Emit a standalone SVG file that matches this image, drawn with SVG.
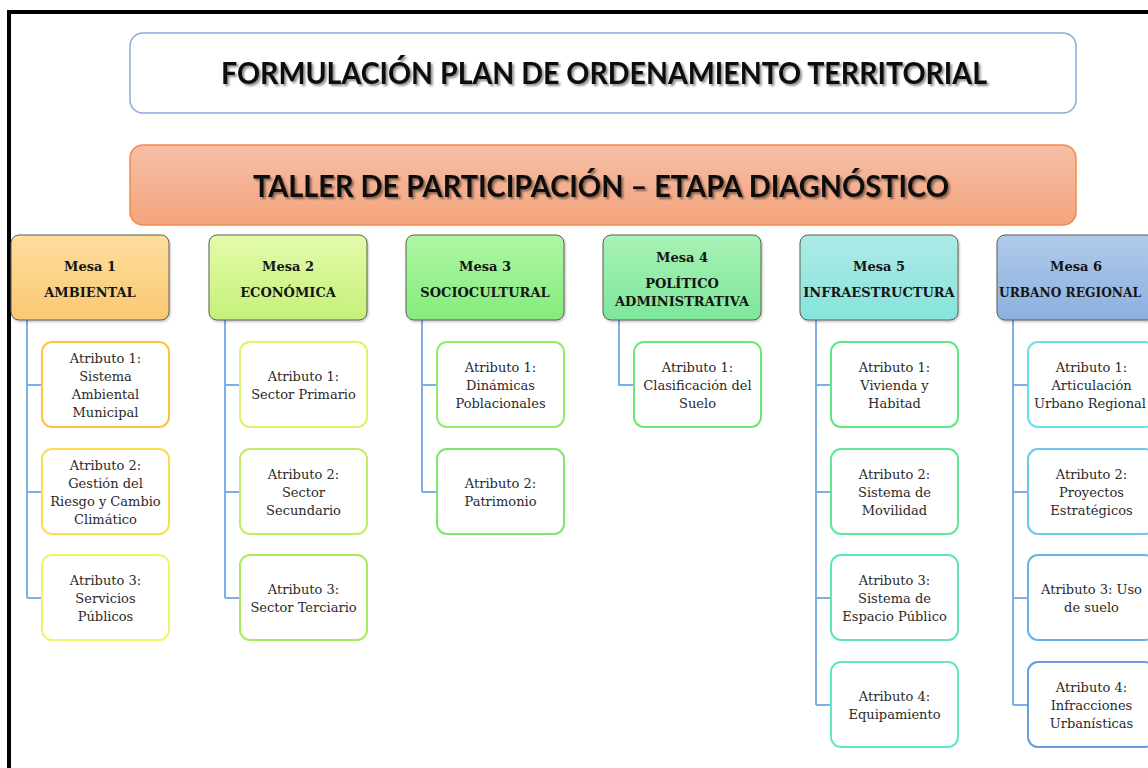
<svg xmlns="http://www.w3.org/2000/svg" width="1148" height="768" viewBox="0 0 1148 768">
<defs>
<style>
.frame{fill:none;stroke:#000;stroke-width:4}
.ttl{font-family:Lato,"Liberation Sans",sans-serif;font-weight:bold;font-size:31px;fill:#0d0d0d;text-anchor:middle}
.mesa{stroke:#5e5e52;stroke-width:1}
.mt{font-family:"DejaVu Serif",serif;font-weight:bold;font-size:13px;fill:#141414;text-anchor:middle}
.at{fill:#fff;stroke-width:2}
.att{font-family:"DejaVu Serif",serif;font-size:13px;fill:#2a2a2a;text-anchor:middle}
.con{fill:none;stroke:#7eaee6;stroke-width:2}
</style>
<filter id="tsh" x="-5%" y="-30%" width="110%" height="160%">
<feDropShadow dx="2" dy="2" stdDeviation="1.2" flood-color="#000" flood-opacity="0.45"/>
</filter>
<filter id="bsh" x="-5%" y="-5%" width="115%" height="120%">
<feDropShadow dx="1" dy="1.5" stdDeviation="1" flood-color="#000" flood-opacity="0.25"/>
</filter>
<linearGradient id="gT" x1="0" y1="0" x2="0" y2="1"><stop offset="0" stop-color="#f6bea6"/><stop offset="1" stop-color="#f4a47c"/></linearGradient>
<linearGradient id="g1" x1="0" y1="0" x2="0" y2="1"><stop offset="0" stop-color="#fedd9e"/><stop offset="1" stop-color="#fbc874"/></linearGradient>
<linearGradient id="g2" x1="0" y1="0" x2="0" y2="1"><stop offset="0" stop-color="#e4fbaa"/><stop offset="1" stop-color="#c6f07a"/></linearGradient>
<linearGradient id="g3" x1="0" y1="0" x2="0" y2="1"><stop offset="0" stop-color="#aef6a4"/><stop offset="1" stop-color="#84ec7c"/></linearGradient>
<linearGradient id="g4" x1="0" y1="0" x2="0" y2="1"><stop offset="0" stop-color="#a8f2b6"/><stop offset="1" stop-color="#7ee69a"/></linearGradient>
<linearGradient id="g5" x1="0" y1="0" x2="0" y2="1"><stop offset="0" stop-color="#aeeae6"/><stop offset="1" stop-color="#86e4da"/></linearGradient>
<linearGradient id="g6" x1="0" y1="0" x2="0" y2="1"><stop offset="0" stop-color="#b0caea"/><stop offset="1" stop-color="#8cb0de"/></linearGradient>
</defs>

<rect class="frame" x="9" y="12" width="1200" height="800"/>

<g id="titulo">
<rect x="130" y="33" width="946" height="80" rx="13" fill="#fff" stroke="#8eaadc" stroke-width="1.5"/>
<text class="ttl" x="604" y="84" textLength="766" lengthAdjust="spacingAndGlyphs" filter="url(#tsh)">FORMULACIÓN PLAN DE ORDENAMIENTO TERRITORIAL</text>
</g>

<g id="taller">
<rect x="130" y="145" width="946" height="80" rx="13" fill="url(#gT)" stroke="#f28a4c" stroke-width="1.5"/>
<text class="ttl" x="601" y="197" textLength="696" lengthAdjust="spacingAndGlyphs" filter="url(#tsh)">TALLER DE PARTICIPACIÓN – ETAPA DIAGNÓSTICO</text>
</g>

<g id="conectores">
<path class="con" d="M27 320 V598 M27 385 H42 M27 492 H42 M27 598 H42"/>
<path class="con" d="M225 320 V598 M225 385 H240 M225 492 H240 M225 598 H240"/>
<path class="con" d="M422 320 V492 M422 385 H437 M422 492 H437"/>
<path class="con" d="M619 320 V385 H634"/>
<path class="con" d="M816 320 V705 M816 385 H831 M816 492 H831 M816 598 H831 M816 705 H831"/>
<path class="con" d="M1013 320 V705 M1013 385 H1028 M1013 492 H1028 M1013 598 H1028 M1013 705 H1028"/>
</g>

<g id="mesa1">
<rect class="mesa" x="11" y="235" width="158" height="85" rx="8" fill="url(#g1)" filter="url(#bsh)"/>
<text class="mt" x="90" y="271">Mesa 1</text>
<text class="mt" x="90" y="297">AMBIENTAL</text>
</g>
<g id="mesa2">
<rect class="mesa" x="209" y="235" width="158" height="85" rx="8" fill="url(#g2)" filter="url(#bsh)"/>
<text class="mt" x="288" y="271">Mesa 2</text>
<text class="mt" x="288" y="297">ECONÓMICA</text>
</g>
<g id="mesa3">
<rect class="mesa" x="406" y="235" width="158" height="85" rx="8" fill="url(#g3)" filter="url(#bsh)"/>
<text class="mt" x="485" y="271">Mesa 3</text>
<text class="mt" x="485" y="297">SOCIOCULTURAL</text>
</g>
<g id="mesa4">
<rect class="mesa" x="603" y="235" width="158" height="85" rx="8" fill="url(#g4)" filter="url(#bsh)"/>
<text class="mt" x="682" y="262">Mesa 4</text>
<text class="mt" x="682" y="288">POLÍTICO</text>
<text class="mt" x="682" y="306">ADMINISTRATIVA</text>
</g>
<g id="mesa5">
<rect class="mesa" x="800" y="235" width="158" height="85" rx="8" fill="url(#g5)" filter="url(#bsh)"/>
<text class="mt" x="879" y="271">Mesa 5</text>
<text class="mt" x="879" y="297">INFRAESTRUCTURA</text>
</g>
<g id="mesa6">
<rect class="mesa" x="997" y="235" width="158" height="85" rx="8" fill="url(#g6)" filter="url(#bsh)"/>
<text class="mt" x="1076" y="271">Mesa 6</text>
<text class="mt" x="1070" y="297" textLength="142" lengthAdjust="spacingAndGlyphs">URBANO REGIONAL</text>
</g>

<g id="m1a1"><rect class="at" x="42" y="342" width="127" height="85" rx="10" stroke="#fdc444"/>
<text class="att" x="105.5" y="363">Atributo 1:</text><text class="att" x="105.5" y="381">Sistema</text><text class="att" x="105.5" y="399">Ambiental</text><text class="att" x="105.5" y="417">Municipal</text></g>
<g id="m1a2"><rect class="at" x="42" y="449" width="127" height="85" rx="10" stroke="#fedc52"/>
<text class="att" x="105.5" y="470">Atributo 2:</text><text class="att" x="105.5" y="488">Gestión del</text><text class="att" x="105.5" y="506">Riesgo y Cambio</text><text class="att" x="105.5" y="524">Climático</text></g>
<g id="m1a3"><rect class="at" x="42" y="555" width="127" height="85" rx="10" stroke="#f0f46c"/>
<text class="att" x="105.5" y="585">Atributo 3:</text><text class="att" x="105.5" y="603">Servicios</text><text class="att" x="105.5" y="621">Públicos</text></g>

<g id="m2a1"><rect class="at" x="240" y="342" width="127" height="85" rx="10" stroke="#d8f56c"/>
<text class="att" x="303.5" y="381">Atributo 1:</text><text class="att" x="303.5" y="399">Sector Primario</text></g>
<g id="m2a2"><rect class="at" x="240" y="449" width="127" height="85" rx="10" stroke="#c0f062"/>
<text class="att" x="303.5" y="479">Atributo 2:</text><text class="att" x="303.5" y="497">Sector</text><text class="att" x="303.5" y="515">Secundario</text></g>
<g id="m2a3"><rect class="at" x="240" y="555" width="127" height="85" rx="10" stroke="#a8ec5e"/>
<text class="att" x="303.5" y="594">Atributo 3:</text><text class="att" x="303.5" y="612">Sector Terciario</text></g>

<g id="m3a1"><rect class="at" x="437" y="342" width="127" height="85" rx="10" stroke="#90ec66"/>
<text class="att" x="500.5" y="372">Atributo 1:</text><text class="att" x="500.5" y="390">Dinámicas</text><text class="att" x="500.5" y="408">Poblacionales</text></g>
<g id="m3a2"><rect class="at" x="437" y="449" width="127" height="85" rx="10" stroke="#7ce86a"/>
<text class="att" x="500.5" y="488">Atributo 2:</text><text class="att" x="500.5" y="506">Patrimonio</text></g>

<g id="m4a1"><rect class="at" x="634" y="342" width="127" height="85" rx="10" stroke="#6ce87a"/>
<text class="att" x="697.5" y="372">Atributo 1:</text><text class="att" x="697.5" y="390">Clasificación del</text><text class="att" x="697.5" y="408">Suelo</text></g>

<g id="m5a1"><rect class="at" x="831" y="342" width="127" height="85" rx="10" stroke="#5ee882"/>
<text class="att" x="894.5" y="372">Atributo 1:</text><text class="att" x="894.5" y="390">Vivienda y</text><text class="att" x="894.5" y="408">Habitad</text></g>
<g id="m5a2"><rect class="at" x="831" y="449" width="127" height="85" rx="10" stroke="#5ee898"/>
<text class="att" x="894.5" y="479">Atributo 2:</text><text class="att" x="894.5" y="497">Sistema de</text><text class="att" x="894.5" y="515">Movilidad</text></g>
<g id="m5a3"><rect class="at" x="831" y="555" width="127" height="85" rx="10" stroke="#5ee8b0"/>
<text class="att" x="894.5" y="585">Atributo 3:</text><text class="att" x="894.5" y="603">Sistema de</text><text class="att" x="894.5" y="621">Espacio Público</text></g>
<g id="m5a4"><rect class="at" x="831" y="662" width="127" height="85" rx="10" stroke="#5ee8c8"/>
<text class="att" x="894.5" y="701">Atributo 4:</text><text class="att" x="894.5" y="719">Equipamiento</text></g>

<g id="m6a1"><rect class="at" x="1028" y="342" width="127" height="85" rx="10" stroke="#6ae0e6"/>
<text class="att" x="1091.5" y="372">Atributo 1:</text><text class="att" x="1091.5" y="390">Articulación</text><text class="att" x="1090" y="408" textLength="112" lengthAdjust="spacingAndGlyphs">Urbano Regional</text></g>
<g id="m6a2"><rect class="at" x="1028" y="449" width="127" height="85" rx="10" stroke="#6cc8e8"/>
<text class="att" x="1091.5" y="479">Atributo 2:</text><text class="att" x="1091.5" y="497">Proyectos</text><text class="att" x="1091.5" y="515">Estratégicos</text></g>
<g id="m6a3"><rect class="at" x="1028" y="555" width="127" height="85" rx="10" stroke="#6ab2e8"/>
<text class="att" x="1091.5" y="594">Atributo 3: Uso</text><text class="att" x="1091.5" y="612">de suelo</text></g>
<g id="m6a4"><rect class="at" x="1028" y="662" width="127" height="85" rx="10" stroke="#6a9ae0"/>
<text class="att" x="1091.5" y="692">Atributo 4:</text><text class="att" x="1091.5" y="710">Infracciones</text><text class="att" x="1091.5" y="728">Urbanísticas</text></g>
</svg>
